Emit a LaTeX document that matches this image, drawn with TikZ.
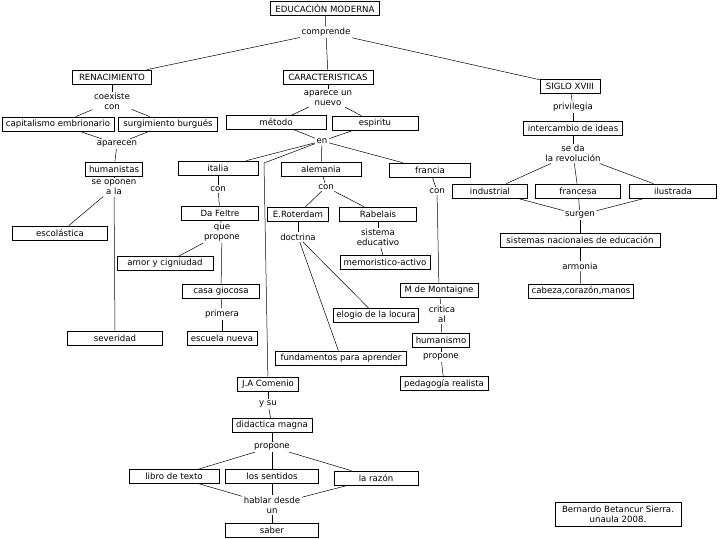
\documentclass[tikz,border=0pt]{standalone}
\usepackage{fontspec}
\setmainfont{DejaVu Sans}
\begin{document}
\begin{tikzpicture}[x=1pt, y=-1pt,
	concept/.style={draw, line width=0.7pt, minimum height=14, inner sep=1pt},
	link/.style={inner sep=1.5pt, align=center},
	every node/.style={font=\fontsize{8.6}{9.8}\selectfont},
	every path/.style={line width=0.5pt}]

\useasboundingbox (0, 0) rectangle (720, 540);

\newcommand\cpt[4]{ \node[concept, minimum width=#3] (#1) at #2 {#4}; }
\newcommand\lnk[3]{ \node[link] (#1) at #2 {#3}; }

% concepts
\cpt{edu}{(325, 8.5)}{109}{EDUCACIÓN MODERNA}
\cpt{renac}{(112, 77)}{79}{RENACIMIENTO}
\cpt{carac}{(328, 77)}{90}{CARACTERISTICAS}
\cpt{siglo}{(570, 86.5)}{60}{SIGLO XVIII}
\cpt{capit}{(58, 124)}{112}{capitalismo embrionario}
\cpt{burgues}{(168, 124)}{99}{surgimiento burgués}
\cpt{metodo}{(276, 122.5)}{100}{método}
\cpt{espiritu}{(375, 123)}{86}{espiritu}
\cpt{interc}{(573, 128)}{99}{intercambio de ideas}
\cpt{human}{(114, 169)}{57}{humanistas}
\cpt{italia}{(218, 168)}{80}{italia}
\cpt{alemania}{(321, 169)}{80}{alemania}
\cpt{francia}{(430, 170)}{81}{francia}
\cpt{indus}{(490, 191)}{75}{industrial}
\cpt{frances}{(578, 191)}{85}{francesa}
\cpt{ilustr}{(673, 191)}{87}{ilustrada}
\cpt{feltre}{(220, 213)}{77}{Da Feltre}
\cpt{roter}{(298, 214)}{61}{E.Roterdam}
\cpt{rabel}{(378, 214)}{77}{Rabelais}
\cpt{sistnac}{(580, 240)}{160}{sistemas nacionales de educación}
\cpt{escol}{(60, 233)}{95}{escolástica}
\cpt{amor}{(165, 263.5)}{96}{amor y cigniudad}
\cpt{memor}{(385, 262.5)}{90}{memoristico-activo}
\cpt{casa}{(221, 291)}{77}{casa giocosa}
\cpt{montai}{(439, 290)}{78}{M de Montaigne}
\cpt{cabeza}{(581, 291)}{105}{cabeza,corazón,manos}
\cpt{elogio}{(376, 315.5)}{85}{elogio de la locura}
\cpt{humanis}{(441, 340)}{57}{humanismo}
\cpt{severid}{(115, 338)}{95}{severidad}
\cpt{escuela}{(222, 338)}{70}{escuela nueva}
\cpt{fundam}{(341, 358)}{131}{fundamentos para aprender}
\cpt{pedag}{(444, 383.5)}{88}{pedagogía realista}
\cpt{comenio}{(268, 384)}{61}{J.A Comenio}
\cpt{didac}{(272, 425.5)}{80}{didactica magna}
\cpt{libro}{(174, 476.5)}{90}{libro de texto}
\cpt{sentidos}{(272, 476.5)}{93}{los sentidos}
\cpt{razon}{(376, 478)}{84}{la razón}
\cpt{saber}{(272, 530)}{93}{saber}
\node[concept, minimum width=126, minimum height=24, align=center] (firma) at (618, 514)
	{Bernardo Betancur Sierra.\\unaula 2008.};

% linking words
\lnk{comprende}{(326, 32)}{comprende}
\lnk{coexiste}{(112, 101.5)}{coexiste\\con}
\lnk{aparece}{(328, 98)}{aparece un\\nuevo}
\lnk{privil}{(573, 107)}{privilegia}
\lnk{aparecen}{(117, 144)}{aparecen}
\lnk{en}{(322, 141)}{en}
\lnk{seda}{(573, 153.5)}{se da\\la revolución}
\lnk{oponen}{(114, 187.5)}{se oponen\\a la}
\lnk{conit}{(218, 189)}{con}
\lnk{conal}{(326, 187)}{con}
\lnk{confr}{(437, 191)}{con}
\lnk{surgen}{(580, 215)}{surgen}
\lnk{doctrina}{(298, 237)}{doctrina}
\lnk{sisted}{(378, 237.5)}{sistema\\educativo}
\lnk{quepro}{(222, 233)}{que\\propone}
\lnk{armonia}{(580, 266)}{armonia}
\lnk{critica}{(442, 314)}{critica\\al}
\lnk{primera}{(222, 314)}{primera}
\lnk{propohum}{(441, 357)}{propone}
\lnk{ysu}{(268, 404)}{y su}
\lnk{propodid}{(272, 447)}{propone}
\lnk{hablar}{(272, 505)}{hablar desde\\un}

\coordinate (comeniobend) at (264, 163);

% connectors
\foreach \a/\b in {edu/comprende, comprende/renac, comprende/carac, comprende/siglo,
	renac/coexiste, coexiste/capit, coexiste/burgues, capit/aparecen, burgues/aparecen,
	aparecen/human, human/oponen, oponen/escol, oponen/severid,
	carac/aparece, aparece/metodo, aparece/espiritu, metodo/en, espiritu/en,
	en/italia, en/alemania, en/francia,
	italia/conit, conit/feltre, feltre/quepro, quepro/amor, quepro/casa, casa/primera, primera/escuela,
	alemania/conal, conal/roter, conal/rabel, roter/doctrina, doctrina/elogio, doctrina/fundam,
	rabel/sisted, sisted/memor,
	francia/confr, confr/montai, montai/critica, critica/humanis, humanis/propohum, propohum/pedag,
	siglo/privil, privil/interc, interc/seda, seda/indus, seda/frances, seda/ilustr,
	indus/surgen, frances/surgen, ilustr/surgen, surgen/sistnac, sistnac/armonia, armonia/cabeza,
	comenio/ysu, ysu/didac, didac/propodid, propodid/libro, propodid/sentidos, propodid/razon,
	libro/hablar, sentidos/hablar, razon/hablar, hablar/saber}
	{ \draw (\a) -- (\b); }

\draw (en) -- (comeniobend) -- (comenio);

\end{tikzpicture}
\end{document}
